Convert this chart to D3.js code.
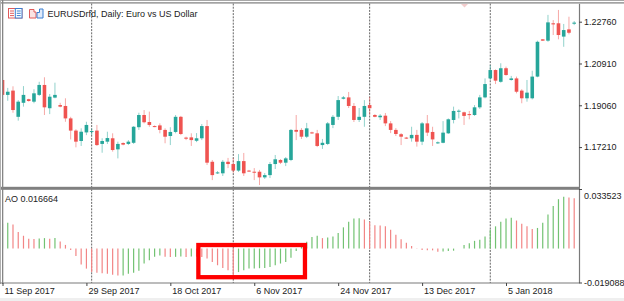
<!DOCTYPE html>
<html>
<head>
<meta charset="utf-8">
<script src="https://cdn.jsdelivr.net/npm/d3@7"></script>
<style>
  body { margin: 0; background: #fff; }
  svg { display: block; font-family: "Liberation Sans", Arial, sans-serif; }
</style>
</head>
<body>
<svg id="chart" width="624" height="301"></svg>
<script>
// EURUSD daily bars (bar index 0 = 11 Sep 2017)
var opens = [1.2018,1.1952,1.1971,1.1855,1.1917,1.1933,1.1922,1.1952,1.1996,1.1893,
  1.1940,1.1907,1.1903,1.1848,1.1794,1.1748,1.1786,1.1788,1.1794,1.1735,
  1.1745,1.1760,1.1711,1.1739,1.1735,1.1740,1.1809,1.1863,1.1832,1.1814,
  1.1817,1.1797,1.1770,1.1788,1.1855,1.1763,1.1764,1.1749,1.1760,1.1814,
  1.1656,1.1605,1.1605,1.1656,1.1646,1.1617,1.1659,1.1617,1.1612,1.1612,
  1.1587,1.1597,1.1646,1.1664,1.1652,1.1664,1.1797,1.1797,1.1767,1.1786,
  1.1782,1.1730,1.1735,1.1819,1.1855,1.1935,1.1941,1.1903,1.1841,1.1855,
  1.1907,1.1863,1.1853,1.1860,1.1826,1.1797,1.1778,1.1763,1.1760,1.1775,
  1.1745,1.1826,1.1788,1.1738,1.1740,1.1782,1.1841,1.1878,1.1875,1.1867,
  1.1863,1.1897,1.1941,1.2025,1.2062,1.2010,1.2070,1.2018,1.2025,1.1971,
  1.1937,1.1937,1.2033,1.2198,1.2192,1.2269,1.2269,1.2210,1.2242,1.2267];
var highs = [1.2022,1.1983,1.1990,1.1929,1.1991,1.1935,1.1977,1.2010,1.2030,1.1956,
  1.2006,1.1917,1.1937,1.1855,1.1800,1.1804,1.1833,1.1804,1.1819,1.1760,
  1.1789,1.1782,1.1745,1.1742,1.1752,1.1814,1.1873,1.1885,1.1878,1.1817,
  1.1826,1.1804,1.1809,1.1863,1.1859,1.1767,1.1782,1.1783,1.1823,1.1841,
  1.1664,1.1615,1.1664,1.1673,1.1673,1.1690,1.1695,1.1620,1.1628,1.1620,
  1.1606,1.1655,1.1686,1.1668,1.1677,1.1801,1.1863,1.1805,1.1828,1.1789,
  1.1797,1.1757,1.1832,1.1863,1.1947,1.1947,1.1965,1.1916,1.1894,1.1929,
  1.1943,1.1867,1.1867,1.1872,1.1836,1.1805,1.1783,1.1766,1.1811,1.1797,
  1.1832,1.1863,1.1811,1.1746,1.1836,1.1848,1.1900,1.1888,1.1878,1.1881,
  1.1907,1.1952,1.2025,1.2084,1.2065,1.2092,1.2077,1.2036,1.2033,1.1977,
  1.2018,1.2059,1.2192,1.2199,1.2306,1.2283,1.2328,1.2266,1.2298,1.2279];
var lows = [1.1947,1.1926,1.1873,1.1838,1.1900,1.1922,1.1915,1.1947,1.1863,1.1867,
  1.1937,1.1897,1.1833,1.1755,1.1720,1.1726,1.1774,1.1774,1.1726,1.1696,
  1.1735,1.1701,1.1671,1.1729,1.1730,1.1735,1.1797,1.1826,1.1811,1.1809,
  1.1782,1.1738,1.1730,1.1782,1.1774,1.1752,1.1726,1.1743,1.1752,1.1642,
  1.1575,1.1602,1.1593,1.1628,1.1606,1.1611,1.1593,1.1611,1.1575,1.1553,
  1.1580,1.1584,1.1624,1.1646,1.1637,1.1659,1.1752,1.1757,1.1761,1.1779,
  1.1721,1.1713,1.1730,1.1805,1.1841,1.1932,1.1894,1.1832,1.1832,1.1811,
  1.1863,1.1853,1.1841,1.1814,1.1783,1.1770,1.1730,1.1757,1.1745,1.1723,
  1.1730,1.1770,1.1726,1.1735,1.1738,1.1779,1.1826,1.1848,1.1819,1.1844,
  1.1859,1.1890,1.1937,1.2018,1.2000,1.2006,1.2037,1.2015,1.1959,1.1915,
  1.1922,1.1932,1.2030,1.2191,1.2187,1.2217,1.2198,1.2165,1.2220,1.2261];
var closes = [1.1952,1.1966,1.1885,1.1922,1.1952,1.1925,1.1959,1.1996,1.1897,1.1944,
  1.1952,1.1900,1.1848,1.1794,1.1745,1.1789,1.1819,1.1792,1.1730,1.1748,
  1.1761,1.1708,1.1735,1.1732,1.1745,1.1811,1.1863,1.1831,1.1819,1.1811,
  1.1797,1.1767,1.1788,1.1855,1.1779,1.1758,1.1752,1.1760,1.1814,1.1652,
  1.1597,1.1609,1.1656,1.1646,1.1617,1.1659,1.1605,1.1613,1.1609,1.1587,
  1.1597,1.1646,1.1667,1.1652,1.1671,1.1797,1.1789,1.1767,1.1804,1.1782,
  1.1726,1.1740,1.1826,1.1855,1.1929,1.1941,1.1903,1.1841,1.1855,1.1903,
  1.1893,1.1855,1.1860,1.1826,1.1797,1.1779,1.1767,1.1760,1.1775,1.1745,
  1.1826,1.1785,1.1755,1.1742,1.1785,1.1844,1.1881,1.1882,1.1859,1.1864,
  1.1897,1.1941,1.2000,1.2062,1.2015,1.2070,1.2040,1.2025,1.1966,1.1937,
  1.1962,1.2033,1.2187,1.2192,1.2273,1.2264,1.2217,1.2239,1.2227,1.2272];

// Awesome Oscillator, one value per bar
var ao = [0.01400,0.01447,0.01350,0.00932,0.00721,0.00549,0.00532,0.00560,0.00589,0.00549,
  0.00589,0.00395,0.00206,-0.00080,-0.00423,-0.00898,-0.01127,-0.01321,-0.01355,-0.01384,
  -0.01412,-0.01470,-0.01521,-0.01510,-0.01412,-0.01355,-0.01252,-0.00841,-0.00652,-0.00463,
  -0.00395,-0.00463,-0.00480,-0.00465,-0.00446,-0.00469,-0.00440,-0.00455,-0.00470,-0.00555,
  -0.00749,-0.00938,-0.01092,-0.01224,-0.01510,-0.01321,-0.01224,-0.01127,-0.01115,-0.01105,
  -0.01090,-0.01035,-0.00938,-0.00841,-0.00749,-0.00520,-0.00137,0.00109,0.00380,0.00646,
  0.00721,0.00589,0.00623,0.00681,0.00875,0.01195,0.01504,0.01693,0.01700,0.01636,
  0.01504,0.01310,0.01292,0.01252,0.01064,0.00778,0.00520,0.00330,0.00149,0.00020,
  -0.00080,-0.00090,-0.00100,-0.00180,-0.00160,-0.00140,-0.00120,0.00010,0.00206,0.00303,
  0.00435,0.00492,0.00681,0.01064,0.01252,0.01504,0.01693,0.01733,0.01578,0.01390,
  0.01252,0.01104,0.01161,0.01447,0.01921,0.02396,0.02779,0.02911,0.02876,0.02836];

var dateTicks = [0, 16, 32, 48, 64, 80, 96];
var dateLabels = ["11 Sep 2017", "29 Sep 2017", "18 Oct 2017", "6 Nov 2017", "24 Nov 2017", "13 Dec 2017", "5 Jan 2018"];
var monthStarts = [17, 44, 70, 93];
var priceTicks = [1.22760, 1.20910, 1.19060, 1.17210];
var aoTicks = [0.033523, -0.019088];
var aoLabel = "AO 0.016664";
var title = "EURUSDrfd, Daily:  Euro vs US Dollar";
var marked = [37, 57];            // bars inside the red box
var markedRange = [0.0020, -0.0161]; // AO range it covers

var upCol = "#26a69a", downCol = "#ef5350";
var aoUp = "#72c272", aoDown = "#f28585";

var svg = d3.select("#chart");
var axisX = 579;

var x = d3.scaleLinear().domain([0, opens.length - 1]).range([2.5, 574.2]);
var yP = d3.scaleLinear().domain([1.15457, 1.23574]).range([186.7, 3.3]);
var yA = d3.scaleLinear().domain([-0.019088, 0.033523]).range([282.5, 189]);

var defs = svg.append("defs");
defs.append("clipPath").attr("id", "clipMain").append("rect")
  .attr("x", 3).attr("y", 3.5).attr("width", axisX - 3).attr("height", 183);
defs.append("clipPath").attr("id", "clipAo").append("rect")
  .attr("x", 3).attr("y", 190).attr("width", axisX - 3).attr("height", 93);

svg.append("rect").attr("width", 624).attr("height", 301).attr("fill", "#fff");

// month separators
svg.append("g").selectAll("line").data(monthStarts).join("line")
  .attr("x1", d => x(d)).attr("x2", d => x(d))
  .attr("y1", 3.5).attr("y2", 283)
  .attr("stroke", "#666").attr("stroke-width", 1)
  .attr("stroke-dasharray", "2,1.2");

// candles
var bars = d3.range(opens.length).map(function(i){
  return {i: i, o: opens[i], h: highs[i], l: lows[i], c: closes[i]};
});
var gc = svg.append("g").attr("clip-path", "url(#clipMain)");
gc.selectAll("line").data(bars).join("line")
  .attr("x1", d => x(d.i)).attr("x2", d => x(d.i))
  .attr("y1", d => yP(d.h)).attr("y2", d => yP(d.l))
  .attr("stroke", d => d.c >= d.o ? upCol : downCol)
  .attr("stroke-opacity", 0.5).attr("stroke-width", 1);
gc.selectAll("rect").data(bars).join("rect")
  .attr("x", d => x(d.i) - 1.8).attr("width", 3.6)
  .attr("y", d => yP(Math.max(d.o, d.c)))
  .attr("height", d => Math.max(1, Math.abs(yP(d.o) - yP(d.c))))
  .attr("fill", d => d.c >= d.o ? upCol : downCol);

// AO histogram
var ga = svg.append("g").attr("clip-path", "url(#clipAo)");
ga.selectAll("line").data(ao).join("line")
  .attr("x1", (d, i) => x(i)).attr("x2", (d, i) => x(i))
  .attr("y1", yA(0)).attr("y2", d => yA(d))
  .attr("stroke", (d, i) => (i === 0 || d > ao[i - 1]) ? aoUp : aoDown)
  .attr("stroke-width", 1.2);

// red highlight box
var bx0 = x(marked[0]) + 1.8, bx1 = x(marked[1]) + 3.5;
svg.append("rect")
  .attr("x", bx0).attr("y", yA(markedRange[0]))
  .attr("width", bx1 - bx0).attr("height", yA(markedRange[1]) - yA(markedRange[0]))
  .attr("fill", "none").attr("stroke", "#ff0000").attr("stroke-width", 4.3);

// pane separator + frame
svg.append("rect").attr("x", 0).attr("y", 186.8).attr("width", axisX + 1).attr("height", 3).attr("fill", "#808080");
svg.append("rect").attr("x", 0).attr("y", 0).attr("width", 624).attr("height", 1).attr("fill", "#a8a8a8");
svg.append("rect").attr("x", 0).attr("y", 2.3).attr("width", 624).attr("height", 1.2).attr("fill", "#7c7c7c");
svg.append("rect").attr("x", 0).attr("y", 0).attr("width", 1).attr("height", 284).attr("fill", "#b0b0b0");
svg.append("rect").attr("x", 2).attr("y", 0).attr("width", 1.3).attr("height", 284).attr("fill", "#858585");
svg.append("rect").attr("x", 0).attr("y", 298).attr("width", 624).attr("height", 3).attr("fill", "#efefef");
svg.append("line").attr("x1", 0).attr("x2", axisX + 0.5).attr("y1", 283).attr("y2", 283)
  .attr("stroke", "#7a7a7a").attr("stroke-width", 1.2);

function styleAxis(g) {
  g.select(".domain").attr("stroke", "#7a7a7a").attr("stroke-width", 1.2);
  g.selectAll(".tick line").attr("stroke", "#444");
  g.selectAll(".tick text").attr("fill", "#222").style("font-size", "9px")
    .style("font-family", "'Liberation Sans', Arial, sans-serif");
}

// price axis
svg.append("g").attr("transform", "translate(" + axisX + ",0)")
  .call(d3.axisRight(yP).tickValues(priceTicks).tickFormat(d3.format(".5f"))
    .tickSize(3).tickSizeOuter(0).tickPadding(2))
  .call(styleAxis);

// AO axis
var gAoAx = svg.append("g").attr("transform", "translate(" + axisX + ",0)")
  .call(d3.axisRight(yA).tickValues(aoTicks).tickFormat(d => d.toFixed(6))
    .tickSize(3).tickSizeOuter(0).tickPadding(2))
  .call(styleAxis);
gAoAx.selectAll(".tick").filter(d => d > 0).select("text").attr("y", 6.5);

// date axis
var gDx = svg.append("g").attr("transform", "translate(0,283)")
  .call(d3.axisBottom(x).tickValues(dateTicks).tickFormat((d, k) => dateLabels[k])
    .tickSize(3).tickSizeOuter(0).tickPadding(2))
  .call(styleAxis);
gDx.select(".domain").remove();
gDx.selectAll(".tick text").attr("text-anchor", "start").attr("x", 1.5);

// header icons
var ic = svg.append("g");
ic.append("rect").attr("x", 8.5).attr("y", 8.5).attr("width", 13.5).attr("height", 9.5)
  .attr("fill", "#fff").attr("stroke", "#e05a5a");
ic.append("rect").attr("x", 15.3).attr("y", 8.5).attr("width", 6.7).attr("height", 9.5)
  .attr("fill", "#fff").attr("stroke", "#3a7fd0");
[11, 13.3, 15.6].forEach(function(yy){
  ic.append("line").attr("x1", 10).attr("x2", 14).attr("y1", yy).attr("y2", yy).attr("stroke", "#e05a5a");
  ic.append("line").attr("x1", 16.8).attr("x2", 20.7).attr("y1", yy).attr("y2", yy).attr("stroke", "#3a7fd0");
});
ic.append("path").attr("d", "M29.5,18 V9.5 H34 V12 H36 V18 Z")
  .attr("fill", "#fbe3e3").attr("stroke", "#e05a5a");
ic.append("path").attr("d", "M37,18 V12.5 H39.5 V9 H43 V18 Z")
  .attr("fill", "#dfeafa").attr("stroke", "#3a7fd0");

svg.append("text").attr("x", 47.5).attr("y", 17)
  .attr("fill", "#222").style("font-size", "9px").text(title);

svg.append("text").attr("x", 5).attr("y", 202)
  .attr("fill", "#222").style("font-size", "9px").text(aoLabel);

// small pale marker at the top
svg.append("path").attr("d", "M461,4 L468,4 L464.5,7.5 Z").attr("fill", "#f2cccc");
</script>
</body>
</html>
